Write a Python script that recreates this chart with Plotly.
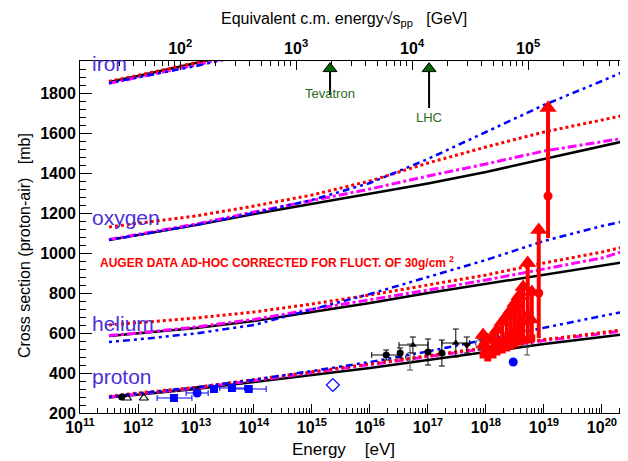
import numpy as np
import plotly.graph_objects as go

# ---- model curves: sigma(p-air) [mb] vs log10(E / eV)
loge = [11.5, 12, 13, 14, 15, 16, 17, 18, 19, 20, 20.4]

proton_black = [278, 292, 320, 355, 390, 425, 465, 505, 545, 580, 595]
proton_magenta = [280, 295, 325, 362, 402, 442, 482, 522, 562, 597, 612]
proton_red = [283, 300, 328, 366, 406, 446, 486, 527, 567, 602, 618]
proton_blue = [280, 298, 328, 366, 410, 455, 508, 568, 628, 685, 708]

helium_black = [585, 598, 625, 660, 705, 750, 800, 845, 892, 935, 955]
helium_magenta = [587, 600, 630, 668, 718, 765, 815, 865, 920, 975, 1012]
helium_red = [640, 652, 675, 705, 745, 790, 840, 890, 950, 1005, 1032]
helium_blue = [555, 568, 598, 640, 718, 795, 880, 965, 1060, 1135, 1160]

oxygen_black = [1065, 1090, 1140, 1195, 1245, 1295, 1348, 1405, 1470, 1535, 1560]
oxygen_magenta = [1067, 1092, 1145, 1205, 1262, 1320, 1385, 1445, 1510, 1558, 1575]
oxygen_red = [1130, 1148, 1185, 1235, 1290, 1360, 1450, 1530, 1605, 1665, 1690]
oxygen_blue = [1065, 1090, 1140, 1200, 1265, 1350, 1470, 1605, 1740, 1860, 1910]

loge_iron = [11.5, 12, 13, 14]
iron_black = [1855, 1885, 1950, 2015]
iron_magenta = [1848, 1878, 1940, 2005]
iron_red = [1858, 1888, 1952, 2018]
iron_blue = [1850, 1878, 1935, 2000]

# ---- measurements (log10 E, sigma, errors)
blk_circ_loge = [11.72, 16.28, 16.52, 17.0, 17.24]
blk_circ_sig = [280, 490, 500, 505, 500]
blk_circ_err = [5, 25, 25, 65, 65]
blk_circ_xlo = [0, 0.25, 0, 0, 0]
blk_circ_xhi = [0, 0.24, 0, 0, 0]

blk_tri_loge = [13.02, 16.74, 17.48]
blk_tri_sig = [318, 540, 550]
blk_tri_err = [12, 40, 70]
blk_tri_xlo = [0, 0.24, 0.24]
blk_tri_xhi = [0, 0.26, 0.24]

blk_open_loge = [16.69, 17.9, 18.71]
blk_open_sig = [480, 545, 550]
blk_open_err = [65, 30, 60]

blk_down_loge = [17.67]
blk_down_sig = [540]
blk_down_err = [40]

blk_otri_loge = [11.81, 12.10]
blk_otri_sig = [275, 275]

blue_sq_loge = [12.62, 13.31, 13.62, 13.91]
blue_sq_sig = [275, 320, 325, 320]
blue_sq_err = [12, 10, 15, 15]
blue_sq_xlo = [0.29, 0, 0.21, 0.24]
blue_sq_xhi = [0.31, 0, 0.22, 0.30]

blue_circ_loge = [13.02, 18.47]
blue_circ_sig = [300, 455]
blue_circ_xlo = [0.19, 0]
blue_circ_xhi = [0.19, 0]

blue_diam_loge = [15.36]
blue_diam_sig = [340]

# Auger (ad-hoc corrected): low / central / upper end of arrow
auger_loge = [17.95, 18.03, 18.12, 18.19, 18.28, 18.36, 18.43, 18.50, 18.57, 18.64, 18.72, 18.79, 18.91, 19.07]
auger_low = [490, 475, 490, 505, 515, 525, 535, 545, 555, 565, 565, 575, 575, 1075]
auger_mid = [540, 515, 525, 540, 555, 575, 590, 605, 625, 655, 690, 665, 800, 1285]
auger_top = [590, 565, 580, 615, 655, 685, 715, 750, 785, 830, 950, 805, 1115, 1725]

collider_names = ["Tevatron", "LHC"]
collider_sqrts = [1960, 14000]  # GeV

labels = ["iron", "oxygen", "helium", "proton"]
label_sig = [1950, 1180, 650, 385]

MP2 = 2 * 0.938  # GeV


def ev(l):
    return 10.0 ** np.array(l, dtype=float)


def sqrts_to_ev(s):
    return np.array(s, dtype=float) ** 2 / MP2 * 1e9


fig = go.Figure()

styles = {
    "black": dict(color="black", width=2.5, dash="solid"),
    "magenta": dict(color="#ff00ff", width=3, dash="9px,3px,3px,3px"),
    "red": dict(color="#ff0000", width=3, dash="3px,3px"),
    "blue": dict(color="#0000ff", width=2.5, dash="3px,4px,3px,4px,7px,4px"),
}
curves = {
    "black": [proton_black, helium_black, oxygen_black],
    "magenta": [proton_magenta, helium_magenta, oxygen_magenta],
    "red": [proton_red, helium_red, oxygen_red],
    "blue": [proton_blue, helium_blue, oxygen_blue],
}
iron = {"black": iron_black, "magenta": iron_magenta, "red": iron_red, "blue": iron_blue}

for key in ["black", "magenta", "red", "blue"]:
    for ys in curves[key]:
        fig.add_trace(go.Scatter(x=ev(loge), y=ys, mode="lines", line=styles[key],
                                 showlegend=False, hoverinfo="skip"))
    fig.add_trace(go.Scatter(x=ev(loge_iron), y=iron[key], mode="lines", line=styles[key],
                             showlegend=False, hoverinfo="skip"))


def xerr(l, lo, hi):
    e = ev(l)
    return dict(type="data", symmetric=False,
                array=ev(np.array(l) + np.array(hi)) - e,
                arrayminus=e - ev(np.array(l) - np.array(lo)),
                thickness=1, width=3)


def add_pts(l, s, sym, color, size, err=None, xlo=None, xhi=None, open_=False):
    kw = {}
    if err is not None:
        kw["error_y"] = dict(type="data", array=err, color=color, thickness=1, width=3)
    if xlo is not None:
        d = xerr(l, xlo, xhi)
        d["color"] = color
        kw["error_x"] = d
    fig.add_trace(go.Scatter(
        x=ev(l), y=s, mode="markers", showlegend=False,
        marker=dict(symbol=sym, size=size, color=color,
                    line=dict(color=color, width=1.2 if open_ else 0)),
        **kw))


add_pts(blk_circ_loge, blk_circ_sig, "circle", "black", 7, blk_circ_err, blk_circ_xlo, blk_circ_xhi)
add_pts(blk_tri_loge, blk_tri_sig, "triangle-up", "black", 7, blk_tri_err, blk_tri_xlo, blk_tri_xhi)
add_pts(blk_open_loge, blk_open_sig, "circle-open", "#444444", 9, blk_open_err, open_=True)
add_pts(blk_down_loge, blk_down_sig, "triangle-down", "black", 8, blk_down_err)
add_pts(blk_otri_loge, blk_otri_sig, "triangle-up-open", "black", 8, open_=True)
add_pts(blue_sq_loge, blue_sq_sig, "square", "#0000ff", 8, blue_sq_err, blue_sq_xlo, blue_sq_xhi)
add_pts(blue_circ_loge, blue_circ_sig, "circle", "#0000ff", 9, None, blue_circ_xlo, blue_circ_xhi)
add_pts(blue_diam_loge, blue_diam_sig, "diamond-open", "#0000ff", 10, open_=True)

# Auger arrows
ax, ay = [], []
for l, lo, hi in zip(auger_loge, auger_low, auger_top):
    ax += [10.0 ** l, 10.0 ** l, None]
    ay += [lo, hi, None]
fig.add_trace(go.Scatter(x=ax, y=ay, mode="lines", line=dict(color="#ff0000", width=4),
                         showlegend=False, hoverinfo="skip"))
fig.add_trace(go.Scatter(x=ev(auger_loge), y=auger_top, mode="markers", showlegend=False,
                         marker=dict(symbol="triangle-up", size=15, color="#ff0000")))
fig.add_trace(go.Scatter(x=ev(auger_loge[:-2]), y=auger_mid[:-2], mode="markers", showlegend=False,
                         marker=dict(symbol="triangle-up", size=13, color="#ff0000")))
fig.add_trace(go.Scatter(x=ev(auger_loge[:-2]), y=auger_low[:-2], mode="markers", showlegend=False,
                         marker=dict(symbol="square", size=7, color="#ff0000")))
fig.add_trace(go.Scatter(x=ev(auger_loge[-2:]), y=auger_mid[-2:], mode="markers", showlegend=False,
                         marker=dict(symbol="circle", size=9, color="#ff0000")))

# collider arrows
coll_e = sqrts_to_ev(collider_sqrts)
shaft_end = [1790, 1725]
text_y = [1800, 1680]
for name, e, se, ty in zip(collider_names, coll_e, shaft_end, text_y):
    fig.add_shape(type="line", x0=e, x1=e, y0=se, y1=1905, line=dict(color="black", width=2))
    fig.add_annotation(x=np.log10(e), y=ty, text=name, showarrow=False,
                       font=dict(size=13, color="#2a6a1a"), yanchor="middle")
fig.add_trace(go.Scatter(x=coll_e, y=[1922, 1922], mode="markers", showlegend=False, cliponaxis=False,
                         marker=dict(symbol="triangle-up", size=12, color="#006400",
                                     line=dict(color="black", width=1))))

for t, s in zip(labels, label_sig):
    fig.add_annotation(x=11.17, y=s, text=t, showarrow=False, xanchor="left", yanchor="middle",
                       font=dict(size=21, color="#4b2fd8"))

fig.add_annotation(xref="paper", yref="paper", x=0.033, y=0.43, xanchor="left", yanchor="middle",
                   text="<b>AUGER DATA AD-HOC CORRECTED FOR FLUCT. OF 30g/cm <sup>2</sup></b>",
                   showarrow=False, font=dict(size=12, color="#ff0000"))

fig.add_annotation(xref="paper", yref="paper", x=0.485, y=-0.105, text="Energy    [eV]",
                   showarrow=False, font=dict(size=17, color="black"), yanchor="middle")
fig.add_annotation(xref="paper", yref="paper", x=-0.103, y=0.477, textangle=-90,
                   text="Cross section (proton-air)   [mb]",
                   showarrow=False, font=dict(size=16, color="black"), xanchor="center")
fig.add_annotation(xref="paper", yref="paper", x=0.485, y=1.117,
                   text="Equivalent c.m. energy√s<sub>pp</sub>   [GeV]",
                   showarrow=False, font=dict(size=16, color="black"), yanchor="middle")

# axes
xmin, xmax = 11, 20.38
xt = [10.0 ** k for k in range(11, 21)]
xtt = ["<b>10<sup>%d</sup></b>" % k for k in range(11, 21)]
xminor = [m * 10.0 ** k for k in range(11, 21) for m in range(2, 10)]

# page body adds an 8px offset, so the figure is 8px smaller with 8px less left/top margin
fig.update_layout(
    width=620, height=453, margin=dict(l=72, r=4, t=53, b=48),
    plot_bgcolor="white", paper_bgcolor="white",
    font=dict(family="Liberation Sans, Arial, sans-serif", color="black"),
    xaxis=dict(type="log", range=[xmin, xmax], tickvals=xt, ticktext=xtt,
               ticks="inside", ticklen=9, tickcolor="black", showgrid=False, zeroline=False,
               showline=True, linecolor="black", linewidth=1, tickfont=dict(size=16),
               minor=dict(tickvals=xminor, ticks="inside", ticklen=5, tickcolor="black", showgrid=False)),
    yaxis=dict(range=[200, 1960], tickvals=list(range(200, 1801, 200)),
               ticktext=["<b>%d</b>" % v for v in range(200, 1801, 200)],
               ticks="inside", ticklen=12, tickcolor="black", showgrid=False, zeroline=False,
               showline=True, mirror=True, linecolor="black", linewidth=1, tickfont=dict(size=16),
               minor=dict(dtick=40, tick0=200, ticks="inside", ticklen=6, tickcolor="black", showgrid=False)),
)

# top axis in sqrt(s_pp)
s_lo = 0.5 * (xmin - 9 + np.log10(MP2))
s_hi = 0.5 * (xmax - 9 + np.log10(MP2))
st = [10.0 ** k for k in range(1, 6)]
stt = ["<b>10<sup>%d</sup></b>" % k for k in range(1, 6)]
sminor = [m * 10.0 ** k for k in range(1, 6) for m in range(2, 10)]
fig.add_trace(go.Scatter(x=[None], y=[None], xaxis="x2", showlegend=False))
fig.update_layout(
    xaxis2=dict(type="log", range=[s_lo, s_hi], overlaying="x", side="top", anchor="y",
                tickvals=st, ticktext=stt, ticks="inside", ticklen=9, tickcolor="black",
                showgrid=False, zeroline=False, showline=True, linecolor="black", linewidth=1,
                tickfont=dict(size=16),
                minor=dict(tickvals=sminor, ticks="inside", ticklen=5, tickcolor="black", showgrid=False)),
)

fig.write_html("out.html")
